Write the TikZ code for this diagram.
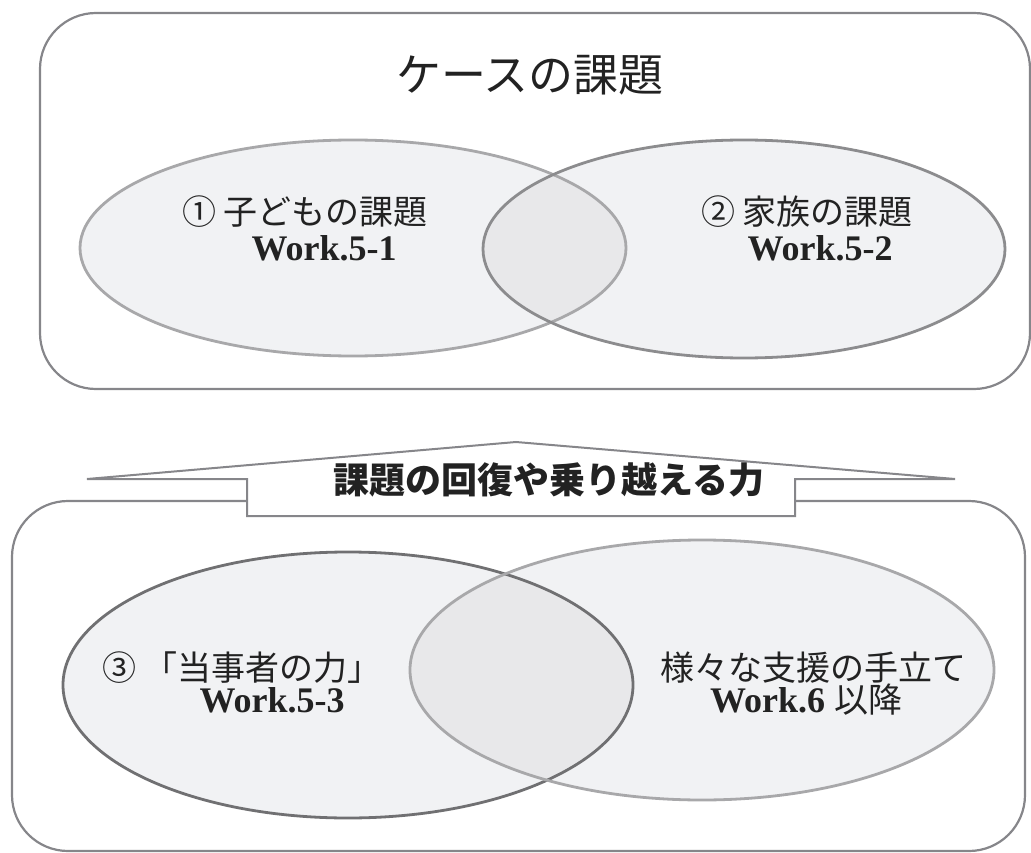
\documentclass[tikz,border=0pt]{standalone}
\usepackage{fontspec}
\setmainfont{Liberation Serif}
\newfontfamily\cjk{Noto Sans CJK JP}
\definecolor{boxline}{HTML}{86868A}
\definecolor{ellfill}{HTML}{F1F2F4}
\definecolor{overlapfill}{HTML}{E8E8EA}
\definecolor{lightline}{HTML}{A8A8AA}
\definecolor{midline}{HTML}{8C8C8E}
\definecolor{darkline}{HTML}{707072}
\definecolor{txt}{HTML}{222222}
\begin{document}
\begin{tikzpicture}[x=1pt,y=-1pt,
  framebox/.style={draw=boxline,line width=2.2pt,rounded corners=56pt},
  jtext/.style={text=txt,inner sep=0pt,font=\cjk\fontsize{34}{36}\selectfont},
  wtext/.style={text=txt,inner sep=0pt,font=\bfseries\fontsize{36}{38}\selectfont},
  ell/.style={line width=2.8pt}]
\useasboundingbox (0,0) rectangle (1031,853);
% top frame
\draw[framebox] (40,13) rectangle (1030,389);
% top ellipses
\coordinate (e1) at (353,248);
\coordinate (e2) at (744,249);
\fill[ellfill] (e1) ellipse [x radius=273, y radius=108];
\fill[ellfill] (e2) ellipse [x radius=261, y radius=109];
\begin{scope}
\clip (e1) ellipse [x radius=273, y radius=108];
\fill[overlapfill] (e2) ellipse [x radius=261, y radius=109];
\end{scope}
\draw[ell,draw=lightline] (e1) ellipse [x radius=273, y radius=108];
\draw[ell,draw=midline] (e2) ellipse [x radius=261, y radius=109];
% bottom frame
\draw[framebox] (12,501) rectangle (1025,851);
% bottom ellipses
\coordinate (e3) at (348,685);
\coordinate (e4) at (702,670);
\fill[ellfill] (e3) ellipse [x radius=285, y radius=133];
\fill[ellfill] (e4) ellipse [x radius=292, y radius=130];
\begin{scope}
\clip (e3) ellipse [x radius=285, y radius=133];
\fill[overlapfill] (e4) ellipse [x radius=292, y radius=130];
\end{scope}
\draw[ell,draw=darkline] (e3) ellipse [x radius=285, y radius=133];
\draw[ell,draw=lightline] (e4) ellipse [x radius=292, y radius=130];
% arrow banner
\draw[fill=white,draw=boxline,line width=2pt,line join=miter]
  (87,479) -- (516,442) -- (955,479) -- (795,479) -- (795,516) -- (247,516) -- (247,479) -- cycle;
% texts
\node[jtext,font=\cjk\fontsize{45}{48}\selectfont] (title) at (530,75) {ケースの課題};
\node[jtext] (t1a) at (305,212) {① 子どもの課題};
\node[wtext] (t1b) at (324,248) {Work.5-1};
\node[jtext] (t2a) at (807,212) {② 家族の課題};
\node[wtext] (t2b) at (820,248) {Work.5-2};
\node[jtext,font=\cjk\bfseries\fontsize{36}{38}\selectfont] (band) at (549,480) {課題の回復や乗り越える力};
\node[jtext] (t3a) at (242,668) {③ 「当事者の力」};
\node[wtext] (t3b) at (272,700) {Work.5-3};
\node[jtext] (t4a) at (813,668) {様々な支援の手立て};
\node[wtext] (t4b) at (806,700) {Work.6 {\cjk\mdseries\fontsize{34}{36}\selectfont 以降}};
\end{tikzpicture}
\end{document}
